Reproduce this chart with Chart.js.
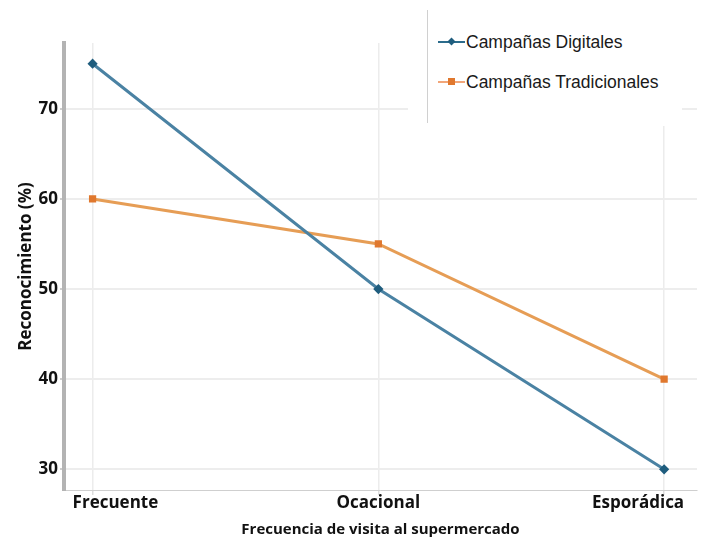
<!DOCTYPE html>
<html>
<head>
<meta charset="utf-8">
<script src="https://cdn.jsdelivr.net/npm/chart.js@4.4.1/dist/chart.umd.min.js"></script>
<style>
  body { margin: 0; background: #fff; }
  #wrap { position: relative; width: 704px; height: 539px; }
  #legendBox {
    position: absolute; left: 408px; top: 8px; width: 274px; height: 118px;
    background: #fff;
  }
  #legendBox .rule {
    position: absolute; left: 19px; top: 2px; width: 1px; height: 113px; background: #d0d0d0;
  }
  .item {
    position: absolute; left: 30px; height: 22px;
    font: 17.5px "Liberation Sans", Arial, sans-serif; color: #1a1a1a;
    display: flex; align-items: center;
  }
  .item .sym { position: relative; width: 27px; height: 22px; margin-right: 1px; }
  .item .sym .ln { position: absolute; left: 0; right: 0; top: 10px; height: 2px; }
  .item .sym .mk { position: absolute; left: 10px; top: 7px; width: 7px; height: 7px; }
</style>
</head>
<body>
<div id="wrap">
  <canvas id="lineChart"></canvas>
  <div id="legendBox"><div class="rule"></div></div>
</div>
<script>
const categories = ['Frecuente', 'Ocacional', 'Esporádica'];
const seriesNames = ['Campañas Digitales', 'Campañas Tradicionales'];
const digitales = [75, 50, 30];
const tradicionales = [60, 55, 40];
const yTicks = [30, 40, 50, 60, 70];

const lineColors = ['#4a82a3', '#e69d55'];
const markColors = ['#1f5d7e', '#e0782e'];
const legendLine = ['#2c6c8c', '#f2a679'];
const markStyles = ['rectRot', 'rect'];

const series = [digitales, tradicionales];

// legend drawn as html on a white box over the plot
const box = document.getElementById('legendBox');
seriesNames.forEach((name, i) => {
  const item = document.createElement('div');
  item.className = 'item';
  item.style.top = (23 + i * 40) + 'px';
  const mkStyle = markStyles[i] === 'rectRot'
    ? 'transform: rotate(45deg) scale(0.8);'
    : '';
  item.innerHTML =
    '<div class="sym"><div class="ln" style="background:' + legendLine[i] + '"></div>' +
    '<div class="mk" style="background:' + markColors[i] + ';' + mkStyle + '"></div></div>' +
    '<span>' + name + '</span>';
  box.appendChild(item);
});

const tickFont = { family: '"Open Sans", sans-serif', size: 17, weight: 'bold' };

// x labels: outer ones are pulled inward so they stay inside the plot
const xLabels = {
  id: 'xLabels',
  afterDraw(chart) {
    const sx = chart.scales.x;
    const ctx = chart.ctx;
    ctx.save();
    ctx.font = 'bold 17px "Open Sans", sans-serif';
    ctx.fillStyle = '#111';
    ctx.textBaseline = 'middle';
    categories.forEach((c, i) => {
      let x = sx.getPixelForValue(i);
      if (i === 0) { ctx.textAlign = 'left'; x -= 20; }
      else if (i === categories.length - 1) { ctx.textAlign = 'right'; x += 20; }
      else ctx.textAlign = 'center';
      ctx.fillText(c, x, sx.top + 13);
    });
    ctx.restore();
  }
};

new Chart(document.getElementById('lineChart'), {
  type: 'line',
  data: {
    datasets: series.map((vals, i) => ({
      label: seriesNames[i],
      data: vals.map((v, j) => ({ x: j, y: v })),
      borderColor: lineColors[i],
      backgroundColor: markColors[i],
      pointBorderColor: markColors[i],
      pointStyle: markStyles[i],
      pointRadius: 3,
      borderWidth: 3,
      fill: false,
      tension: 0
    }))
  },
  plugins: [xLabels],
  options: {
    responsive: true,
    maintainAspectRatio: false,
    animation: false,
    layout: { padding: { top: 43, right: 2, left: 0, bottom: 0 } },
    plugins: {
      legend: { display: false },
      tooltip: { enabled: false }
    },
    scales: {
      x: {
        type: 'linear',
        min: -0.1,
        max: 2.115,
        afterBuildTicks: s => { s.ticks = categories.map((c, i) => ({ value: i })); },
        afterFit: s => { s.height = 49; },
        ticks: {
          callback: () => '',
          padding: 1,
          maxRotation: 0
        },
        grid: { color: '#ececec', lineWidth: 1.5, tickLength: 5, tickColor: '#ddd' },
        border: { color: '#cfcfcf', width: 1 },
        title: {
          display: true,
          text: 'Frecuencia de visita al supermercado',
          font: { family: '"Open Sans", sans-serif', size: 15, weight: 'bold' },
          color: '#111',
          padding: { top: 0, bottom: 0 }
        }
      },
      y: {
        min: 27.7,
        max: 77.3,
        afterBuildTicks: s => { s.ticks = yTicks.map(v => ({ value: v })); },
        afterFit: s => { s.width = 64; },
        ticks: {
          font: tickFont,
          color: '#111',
          padding: 2
        },
        grid: { color: '#ededed', lineWidth: 2, tickLength: 4, tickColor: '#ccc' },
        border: { color: '#b3b3b3', width: 4 },
        title: {
          display: true,
          text: 'Reconocimiento (%)',
          font: { family: '"Open Sans", sans-serif', size: 17, weight: 'bold' },
          color: '#111',
          padding: { top: 16, bottom: 0 }
        }
      }
    }
  }
});
</script>
</body>
</html>
